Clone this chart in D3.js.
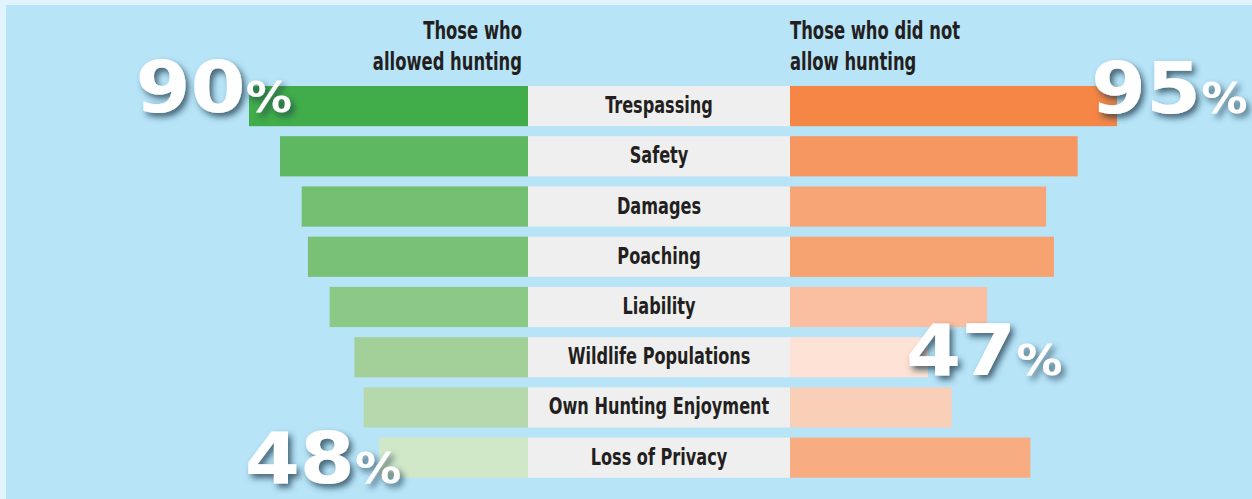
<!DOCTYPE html>
<html>
<head>
<meta charset="utf-8">
<script src="https://cdn.jsdelivr.net/npm/d3@7"></script>
<style>
  body { margin: 0; background: #b8e4f8; }
  svg { display: block; }
  .cond { font-family: "DejaVu Sans Condensed", "DejaVu Sans", sans-serif; font-weight: bold; fill: #231f20; }
  .big { font-family: "DejaVu Sans", sans-serif; font-weight: bold; fill: #fff; }
</style>
</head>
<body>
<div id="container"></div>
<script>
const width = 1252,
  height = 499;

/** -------------- DATA -------------- */

const reasons = ["Trespassing", "Safety", "Damages", "Poaching", "Liability",
  "Wildlife Populations", "Own Hunting Enjoyment", "Loss of Privacy"];

// % of landowners citing each concern
const allowed = [90, 80, 73, 71, 64, 56, 53, 48];
const notAllowed = [95, 85, 77, 79, 62, 47, 53, 73];

const leftTitle = ["Those who", "allowed hunting"];
const rightTitle = ["Those who did not", "allow hunting"];

// which values get the big callout
const callouts = [
  { side: "left", reason: "Trespassing" },
  { side: "right", reason: "Trespassing" },
  { side: "right", reason: "Wildlife Populations" },
  { side: "left", reason: "Loss of Privacy" }
];

/** -------------- SCALES -------------- */

const centerLeft = 528, centerRight = 790;
const squeeze = 0.78; // no condensed bold installed, so narrow DejaVu by hand

const y = d3.scaleBand(reasons, [86, 477.75])
  .paddingInner(0.2)
  .paddingOuter(0);

// bar lengths in px, out from the centre column
const xLeft = d3.scaleLinear([0, 90], [0, 279]);
const xRight = d3.scaleLinear([47, 95], [138, 327]);

const greens = d3.scaleLinear([48, 53, 56, 90], ["#d0e7c8", "#b5d8ac", "#a3d099", "#41ad4a"]);
const oranges = d3.scaleLinear([47, 53, 95], ["#fde2d5", "#facfb8", "#f58646"]);

const rows = reasons.map((r, i) => ({ reason: r, left: allowed[i], right: notAllowed[i] }));

/** -------------- DRAW -------------- */

const svg = d3.select("#container")
  .append("svg")
  .attr("width", width)
  .attr("height", height);

const defs = svg.append("defs");
defs.append("filter")
    .attr("id", "shadow")
    .attr("x", "-20%").attr("y", "-20%")
    .attr("width", "150%").attr("height", "160%")
  .append("feDropShadow")
    .attr("dx", 3)
    .attr("dy", 4)
    .attr("stdDeviation", 3)
    .attr("flood-color", "#1c3b4a")
    .attr("flood-opacity", 0.75);

// pale frame strips along top and left
svg.append("rect").attr("width", width).attr("height", 5).attr("fill", "#e1f3fc");
svg.append("rect").attr("y", 5).attr("width", 6).attr("height", height).attr("fill", "#e1f3fc");

const row = svg.selectAll("g.row")
  .data(rows)
  .join("g")
    .attr("class", "row")
    .attr("transform", d => `translate(0,${y(d.reason)})`);

row.append("rect")
    .attr("x", centerLeft)
    .attr("width", centerRight - centerLeft)
    .attr("height", y.bandwidth())
    .attr("fill", "#efefef");

row.append("rect")
    .attr("x", d => centerLeft - xLeft(d.left))
    .attr("width", d => xLeft(d.left))
    .attr("height", y.bandwidth())
    .attr("fill", d => greens(d.left));

row.append("rect")
    .attr("x", centerRight)
    .attr("width", d => xRight(d.right))
    .attr("height", y.bandwidth())
    .attr("fill", d => oranges(d.right));

row.append("text")
    .attr("class", "cond")
    .attr("transform", `translate(${(centerLeft + centerRight) / 2},${y.bandwidth() / 2 + 7}) scale(${squeeze},1)`)
    .attr("text-anchor", "middle")
    .attr("font-size", 23)
    .text(d => d.reason);

// column headers
const header = (lines, x, anchor) => {
  const t = svg.append("text")
      .attr("class", "cond")
      .attr("font-size", 24)
      .attr("transform", `translate(${x},0) scale(${squeeze - 0.02},1)`)
      .attr("text-anchor", anchor);
  t.selectAll("tspan")
    .data(lines)
    .join("tspan")
      .attr("x", 0)
      .attr("y", (d, i) => 39 + i * 31)
      .text(d => d);
};
header(leftTitle, 522, "end");
header(rightTitle, 790, "start");

// big percentage callouts
const calloutPos = {
  "left:Trespassing": { dx: 43, dy: 26 },
  "right:Trespassing": { dx: -26, dy: 27 },
  "right:Wildlife Populations": { dx: -22, dy: 38 },
  "left:Loss of Privacy": { dx: 22, dy: 45 }
};

callouts.forEach(c => {
  const d = rows.find(r => r.reason === c.reason);
  const pos = calloutPos[`${c.side}:${c.reason}`];
  const v = c.side === "left" ? d.left : d.right;
  const anchorX = c.side === "left"
    ? centerLeft - xLeft(v) + pos.dx
    : centerRight + xRight(v) + pos.dx;
  const g = svg.append("g")
      .attr("transform", `translate(${anchorX},${y(c.reason) + pos.dy}) scale(1.1,1)`)
      .attr("filter", "url(#shadow)");
  const t = g.append("text")
      .attr("class", "big")
      .attr("text-anchor", c.side === "left" ? "end" : "start");
  t.append("tspan").attr("font-size", 72).text(v);
  t.append("tspan").attr("font-size", 42).text("%");
});
</script>
</body>
</html>
